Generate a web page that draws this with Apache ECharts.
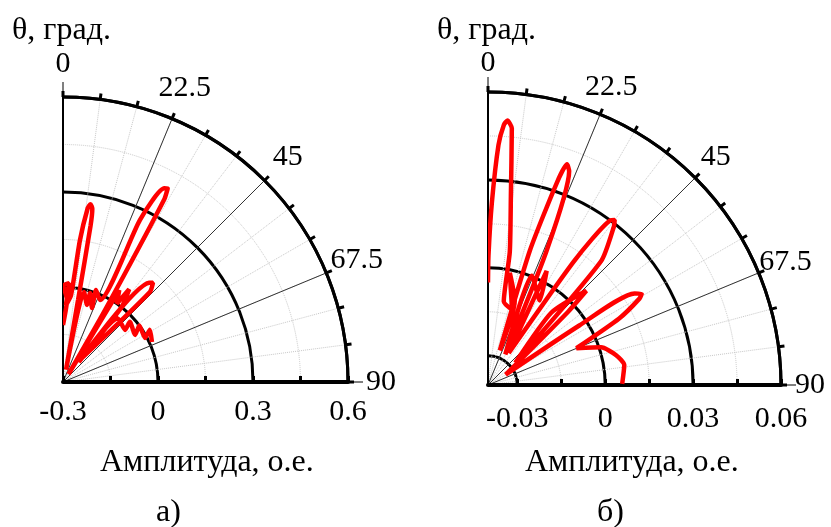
<!DOCTYPE html>
<html><head><meta charset="utf-8">
<script src="https://cdn.jsdelivr.net/npm/echarts@6/dist/echarts.min.js"></script>
<style>html,body{margin:0;padding:0;background:#fff}#c{width:831px;height:527px}</style>
</head><body><div id="c"></div>
<script>
// ---------- data ----------
const angleTicks = [0, 22.5, 45, 67.5, 90];          // θ, град.
const radiusTicksA = [-0.3, 0, 0.3, 0.6];            // chart а)
const radiusTicksB = [-0.03, 0, 0.03, 0.06];         // chart б)

// chart а): angle θ (deg) and amplitude (o.e.)
const thetaA = [0, 2.8, 0.3, 3.5, 2.2, 5.3, 6.8, 8.1, 8.8, 9.6, 10.0, 10.4, 14, 13.1, 17.3, 16.9, 21.4, 19.7, 24.3,
  25.4, 27.6, 28.4, 29.0, 30.3, 35, 31.5, 34.5, 35.5, 38, 38.5, 41.0, 42.2, 44, 37.7, 40.7, 50, 48, 56.9, 53.5, 61.8, 59, 65.8];
const ampA = [-0.12, -0.04, 0.005, 0.013, -0.057, -0.024, 0.15, 0.255, 0.268, 0.255, 0.2, -0.037, -0.26, -0.008, -0.045, -0.006, -0.049, 0.009, -0.016,
  0.267, 0.39, 0.395, 0.36, -0.037, -0.27, 0.04, 0.0, 0.06, 0.0, -0.22, 0.115, 0.123, 0.095, -0.212, -0.035, -0.044, -0.016, -0.028, 0.0, -0.006, 0.02, 0.008];

// chart б)
const thetaB = [0, 0.2, 1.2, 2.5, 3.5, 4.2, 5.3, 6.9, 9.3, 10.7, 17.7, 11, 17.6, 18.9, 17.3, 18.8, 19.7, 20.8, 23.6, 29.5,
  21.8, 31.5, 27.2, 33, 34.8, 36.6, 37.5, 38.5, 42.4, 50.8, 41.2, 46.2, 47.6, 59.5, 56.9, 58.0, 59.3, 60.3, 63.1, 67.4, 71.6, 76.9, 81.7, 89.5];
const ampB = [-0.005, 0.004, 0.022, 0.042, 0.049, 0.0505, 0.048, 0.025, 0.006, -0.011, -0.013, -0.001, -0.0098, -0.0275, 0.008, 0.033, 0.040, 0.038, 0.0099, -0.028,
  0.0002, -0.0062, 0.0038, -0.027, 0.0116, 0.030, 0.031, 0.029, 0.0173, -0.028, -0.0071, 0.0065, -0.0034, -0.033, -0.0028, 0.019, 0.021, 0.0195, 0.0102, -0.0073, 0.0007, 0.0049, 0.007, 0.0058];

// ---------- helpers ----------
const FONT = 'Liberation Serif';
const FS = 30;
const fmt = v => String(Math.round(v * 1e6) / 1e6);
const near = (v, arr) => arr.some(a => Math.abs(a - v) < 1e-9);
const toLib = t => 90 - t;   // θ measured from the vertical, clockwise

function buildChart(cfg, base) {
  const { center, radius, min, max, ticks, minorStep, labelMargin, labelPx } = cfg;
  const polar = [0, 1, 2].map(() => ({ center, radius }));
  const minor = [];
  for (let v = ticks[0]; v <= max + 1e-9; v += minorStep) minor.push(Math.round(v * 1e6) / 1e6);
  const angleBase = { type: 'value', min: 0, max: 90, startAngle: 0, endAngle: 90, clockwise: false };
  const angleAxis = [
    Object.assign({}, angleBase, {
      polarIndex: base, interval: 7.5,
      axisLine: { show: true, lineStyle: { color: '#000', width: 3 } },
      axisTick: { show: true, inside: false, length: 6, lineStyle: { color: '#000', width: 3 } },
      axisLabel: { show: false },
      splitLine: { show: true, lineStyle: { color: '#c8c8c8', type: 'dotted', width: 1 } }
    }),
    Object.assign({}, angleBase, {
      polarIndex: base + 1, interval: 22.5,
      axisLine: { show: false }, axisTick: { show: false }, axisLabel: { show: false },
      splitLine: { show: true, lineStyle: { color: '#333', width: 1 } }
    }),
    Object.assign({}, angleBase, {
      polarIndex: base + 2, interval: 90,
      axisLine: { show: false }, axisLabel: { show: false },
      axisTick: { show: true, inside: false, length: 15, lineStyle: { color: '#000', width: 1 } },
      splitLine: { show: true, lineStyle: { color: '#000', width: 2 } }
    })
  ];
  const radiusAxis = [
    {
      polarIndex: base, type: 'value', min, max,
      axisLine: { show: true, lineStyle: { color: '#000', width: 4 } },
      axisTick: { show: true, inside: true, length: 6, customValues: minor, lineStyle: { color: '#000', width: 3 } },
      axisLabel: { show: true, customValues: ticks, margin: labelMargin, formatter: v => near(v, ticks) ? fmt(v) : '',
        fontFamily: FONT, fontSize: FS, color: '#000' },
      splitLine: { show: true, lineStyle: { color: '#c8c8c8', type: 'dotted', width: 1 } }
    },
    {
      polarIndex: base + 1, type: 'value', min, max,
      axisLine: { show: false }, axisLabel: { show: false },
      axisTick: { show: false, customValues: ticks },
      splitLine: { show: true, lineStyle: { color: '#000', width: 3 } }
    },
    { polarIndex: base + 2, type: 'value', min, max, show: false }
  ];
  const labelR = max + (labelPx - radius) / radius * (max - min);
  return { polar, angleAxis, radiusAxis, labelR };
}

const A = buildChart({ center: [63, 382], radius: 285, min: -0.3, max: 0.6, ticks: radiusTicksA, minorStep: 0.15, labelMargin: -45, labelPx: 318 }, 0);
const B = buildChart({ center: [488, 385], radius: 293, min: -0.04, max: 0.06, ticks: radiusTicksB, minorStep: 0.015, labelMargin: -49, labelPx: 322 }, 3);

function curve(theta, amp, polarIndex) {
  return {
    type: 'line', coordinateSystem: 'polar', polarIndex, z: 10, symbol: 'none', smooth: 0.2,
    clip: false, lineStyle: { color: '#ff0000', width: 4.5 },
    data: theta.map((t, i) => [amp[i], toLib(t)])
  };
}
function angleLabels(labelR, polarIndex) {
  return {
    type: 'scatter', coordinateSystem: 'polar', polarIndex, symbolSize: 0, clip: false, silent: true, z: 11,
    itemStyle: { color: '#000', opacity: 1 },
    emphasis: { disabled: true },
    label: { show: true, position: 'top', distance: 0, align: 'center', verticalAlign: 'middle',
      textBorderWidth: 0, textBorderColor: 'transparent', textShadowBlur: 0,
      formatter: p => '{t|' + p.value[2] + '}',
      rich: { t: { fontFamily: FONT, fontSize: FS, color: '#000', textBorderWidth: 0 } } },
    data: angleTicks.map(t => [labelR, toLib(t), t])
  };
}
const ts = { fontFamily: FONT, fontSize: 32, fontWeight: 'normal', color: '#000' };
const option = {
  animation: false,
  backgroundColor: '#fff',
  title: [
    { text: 'θ, град.', left: 12, top: 15, padding: 0, textStyle: ts },
    { text: 'θ, град.', left: 437, top: 15, padding: 0, textStyle: ts },
    { text: 'Амплитуда, о.е.', left: 100, top: 447, padding: 0, textStyle: ts },
    { text: 'Амплитуда, о.е.', left: 525, top: 447, padding: 0, textStyle: ts },
    { text: 'а)', left: 156, top: 497, padding: 0, textStyle: ts },
    { text: 'б)', left: 597, top: 497, padding: 0, textStyle: ts }
  ],
  polar: A.polar.concat(B.polar),
  angleAxis: A.angleAxis.concat(B.angleAxis),
  radiusAxis: A.radiusAxis.concat(B.radiusAxis),
  series: [
    curve(thetaA, ampA, 0), curve(thetaB, ampB, 3),
    angleLabels(A.labelR, 0), angleLabels(B.labelR, 3)
  ]
};
const chart = echarts.init(document.getElementById('c'), null, { renderer: 'canvas' });
chart.setOption(option);
</script></body></html>
